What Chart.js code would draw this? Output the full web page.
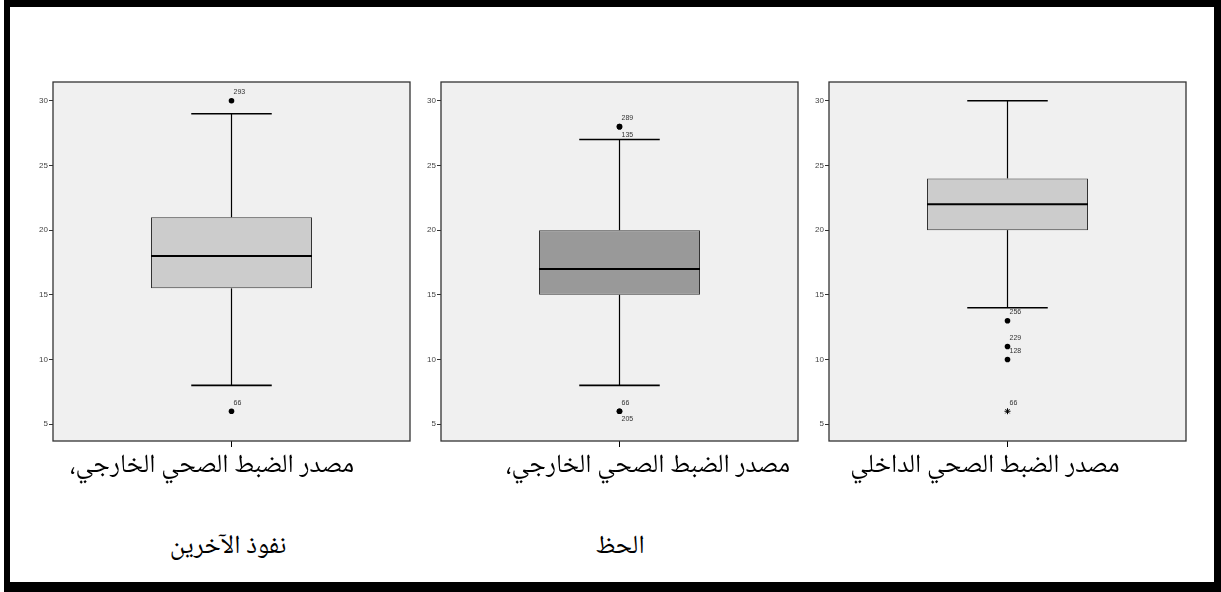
<!DOCTYPE html>
<html>
<head>
<meta charset="utf-8">
<script src="https://cdn.jsdelivr.net/npm/chart.js@4.4.0/dist/chart.umd.min.js"></script>
<style>
  body { margin: 0; background: #fff; width: 1221px; height: 592px; overflow: hidden; position: relative; }
  .frame { position: absolute; left: 4px; top: 0; width: 1217px; height: 592px; box-sizing: border-box;
           border-style: solid; border-color: #000; border-width: 7px 7px 10px 6px; }
  .panel { position: absolute; top: 72px; width: 404px; height: 381px; }
  .caption { position: absolute; width: 400px; text-align: center; direction: rtl; white-space: nowrap;
             font-family: "Noto Naskh Arabic", "Noto Sans Arabic", "DejaVu Sans", serif;
             font-size: 26px; line-height: 34px; color: #000; }
</style>
</head>
<body>
<div class="frame"></div>

<div class="panel" style="left:13px"><canvas id="box0"></canvas></div>
<div class="panel" style="left:401px"><canvas id="box1"></canvas></div>
<div class="panel" style="left:789px"><canvas id="box2"></canvas></div>

<div class="caption" style="left:12px; top:449px">مصدر الضبط الصحي الخارجي،</div>
<div class="caption" style="left:28px; top:530px">نفوذ الآخرين</div>
<div class="caption" style="left:448px; top:449px">مصدر الضبط الصحي الخارجي،</div>
<div class="caption" style="left:420px; top:530px">الحظ</div>
<div class="caption" style="left:785px; top:449px">مصدر الضبط الصحي الداخلي</div>

<script>
// one box per panel
const groups = ["نفوذ الآخرين", "الحظ", "الداخلي"];
const whiskerLow = [8, 8, 14];
const q1 = [15.5, 15, 20];
const medians = [18, 17, 22];
const q3 = [21, 20, 24];
const whiskerHigh = [29, 27, 30];

// circles (outliers) and asterisks (extremes) with their case numbers
const outlierValues = [[30, 6], [28, 28, 6, 6], [13, 11, 10]];
const outlierCases = [["293", "66"], ["289", "135", "66", "205"], ["256", "229", "128"]];
const extremeValues = [[], [], [6]];
const extremeCases = [[], [], ["66"]];

const yTicks = [5, 10, 15, 20, 25, 30];
const boxFill = ["#cccccc", "#999999", "#cccccc"];

const boxParts = (i) => ({
	id: "boxParts",
	beforeDraw(chart) {
		const a = chart.chartArea;
		const ctx = chart.ctx;
		ctx.save();
		ctx.fillStyle = "#f0f0f0";
		ctx.fillRect(a.left, a.top, a.right - a.left, a.bottom - a.top);
		ctx.restore();
	},
	afterDatasetsDraw(chart) {
		const ctx = chart.ctx;
		const y = chart.scales.y;
		const bar = chart.getDatasetMeta(0).data[0];
		const cx = bar.x;
		const half = bar.width / 2;
		const seg = (x1, y1, x2, y2, w) => {
			ctx.lineWidth = w;
			ctx.beginPath();
			ctx.moveTo(x1, y1);
			ctx.lineTo(x2, y2);
			ctx.stroke();
		};
		ctx.save();
		ctx.strokeStyle = "#000";
		// whiskers + caps
		seg(cx, y.getPixelForValue(q3[i]), cx, y.getPixelForValue(whiskerHigh[i]), 1.2);
		seg(cx, y.getPixelForValue(q1[i]), cx, y.getPixelForValue(whiskerLow[i]), 1.2);
		seg(cx - half / 2, y.getPixelForValue(whiskerHigh[i]), cx + half / 2, y.getPixelForValue(whiskerHigh[i]), 1.6);
		seg(cx - half / 2, y.getPixelForValue(whiskerLow[i]), cx + half / 2, y.getPixelForValue(whiskerLow[i]), 1.6);
		// median
		seg(cx - half, y.getPixelForValue(medians[i]), cx + half, y.getPixelForValue(medians[i]), 2);

		// case labels
		ctx.fillStyle = "#333";
		ctx.font = '7px "Liberation Sans", Arial, sans-serif';
		ctx.textAlign = "left";
		ctx.textBaseline = "middle";
		const label = (vals, cases) => {
			vals.forEach((v, j) => {
				const below = j > 0 && vals[j - 1] === v;
				ctx.fillText(cases[j], cx + 2, y.getPixelForValue(v) + (below ? 8 : -8.5));
			});
		};
		label(outlierValues[i], outlierCases[i]);
		label(extremeValues[i], extremeCases[i]);
		ctx.restore();
	},
	afterDraw(chart) {
		const a = chart.chartArea;
		const ctx = chart.ctx;
		ctx.save();
		ctx.strokeStyle = "#333";
		ctx.lineWidth = 1.3;
		ctx.strokeRect(a.left, a.top, a.right - a.left, a.bottom - a.top);
		ctx.restore();
	},
});

groups.forEach((name, i) => {
	new Chart(document.getElementById("box" + i), {
		type: "bar",
		data: {
			labels: [name],
			datasets: [
				{
					type: "bar",
					data: [[q1[i], q3[i]]],
					backgroundColor: boxFill[i],
					borderColor: "#333",
					borderWidth: 1,
					borderSkipped: false,
					barPercentage: 0.451,
					categoryPercentage: 1,
				},
				{
					type: "line",
					data: outlierValues[i].map((v) => ({ x: name, y: v })),
					showLine: false,
					pointRadius: 2.8,
					pointBackgroundColor: "#000",
					pointBorderColor: "#000",
					pointBorderWidth: 0,
				},
				{
					type: "line",
					data: extremeValues[i].map((v) => ({ x: name, y: v })),
					showLine: false,
					pointStyle: "star",
					pointRadius: 3,
					pointBorderColor: "#000",
					pointBorderWidth: 1,
				},
			],
		},
		options: {
			responsive: true,
			maintainAspectRatio: false,
			animation: false,
			layout: { padding: { top: 10, right: 7, bottom: 2, left: 0 } },
			plugins: { legend: { display: false }, tooltip: { enabled: false } },
			scales: {
				x: {
					type: "category",
					offset: true,
					border: { display: false },
					grid: { drawOnChartArea: false, offset: false, tickLength: 6, color: "#000" },
					ticks: { display: false },
					afterFit: (s) => { s.height = 10; },
				},
				y: {
					min: 3.7,
					max: 31.45,
					border: { display: false },
					grid: { drawOnChartArea: false, tickLength: 4, color: "#333" },
					ticks: { color: "#444", padding: 1, font: { size: 8, family: '"Liberation Sans", Arial, sans-serif' } },
					afterBuildTicks: (s) => { s.ticks = yTicks.map((v) => ({ value: v })); },
					afterFit: (s) => { s.width = 40; },
				},
			},
		},
		plugins: [boxParts(i)],
	});
});
</script>
</body>
</html>
